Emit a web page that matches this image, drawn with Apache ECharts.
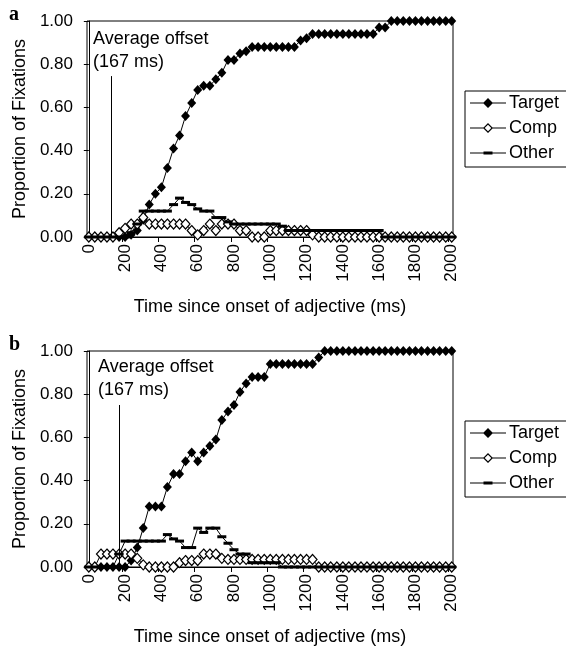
<!DOCTYPE html>
<html><head><meta charset="utf-8">
<script src="https://cdn.jsdelivr.net/npm/echarts@6/dist/echarts.min.js"></script>
<style>html,body{margin:0;padding:0;background:#fff}#c{width:566px;height:649px}</style>
</head><body><div id="c"></div>
<script>
// ---- data ----
const times = [0,33,67,100,133,167,200,233,267,300,333,367,400,433,467,500,533,567,600,633,667,700,733,767,800,833,867,900,933,967,1000,1033,1067,1100,1133,1167,1200,1233,1267,1300,1333,1367,1400,1433,1467,1500,1533,1567,1600,1633,1667,1700,1733,1767,1800,1833,1867,1900,1933,1967,2000];

const targetA = [0,0,0,0,0,0,0,0.01,0.03,0.08,0.15,0.20,0.23,0.32,0.41,0.47,0.56,0.62,0.68,0.70,0.70,0.73,0.76,0.82,0.82,0.85,0.86,0.88,0.88,0.88,0.88,0.88,0.88,0.88,0.88,0.91,0.92,0.94,0.94,0.94,0.94,0.94,0.94,0.94,0.94,0.94,0.94,0.94,0.97,0.97,1,1,1,1,1,1,1,1,1,1,1];
const compA = [0,0,0,0,0,0.02,0.04,0.06,0.06,0.09,0.06,0.06,0.06,0.06,0.06,0.06,0.06,0.03,0.01,0.03,0.06,0.03,0.06,0.06,0.06,0.03,0.03,0,0,0,0.03,0.03,0.03,0.03,0.03,0.03,0.03,0.01,0,0,0,0,0,0,0,0,0,0,0,0,0,0,0,0,0,0,0,0,0,0,0];
const otherA = [0,0,0,0,0,0,0,0.02,0.06,0.12,0.12,0.12,0.12,0.12,0.15,0.18,0.16,0.15,0.13,0.12,0.12,0.09,0.09,0.07,0.06,0.06,0.06,0.06,0.06,0.06,0.06,0.06,0.05,0.03,0.03,0.03,0.03,0.03,0.03,0.03,0.03,0.03,0.03,0.03,0.03,0.03,0.03,0.03,0.03,0,0,0,0,0,0,0,0,0,0,0,0];

const targetB = [0,0,0,0,0,0,0,0.03,0.09,0.18,0.28,0.28,0.28,0.37,0.43,0.43,0.49,0.53,0.49,0.53,0.56,0.59,0.68,0.72,0.75,0.81,0.85,0.88,0.88,0.88,0.94,0.94,0.94,0.94,0.94,0.94,0.94,0.94,0.97,1,1,1,1,1,1,1,1,1,1,1,1,1,1,1,1,1,1,1,1,1,1];
const compB = [0,0,0.06,0.06,0.06,0.06,0.06,0.06,0.04,0.01,0,0,0,0,0,0.02,0.03,0.03,0.03,0.06,0.06,0.06,0.04,0.035,0.035,0.035,0.035,0.035,0.035,0.035,0.035,0.035,0.035,0.035,0.035,0.035,0.035,0.035,0,0,0,0,0,0,0,0,0,0,0,0,0,0,0,0,0,0,0,0,0,0,0];
const otherB = [0,0,0,0,0,0.06,0.12,0.12,0.12,0.12,0.12,0.12,0.12,0.15,0.13,0.12,0.09,0.09,0.18,0.16,0.18,0.18,0.14,0.11,0.08,0.06,0.06,0.02,0.02,0.02,0.02,0.02,0,0,0,0,0,0,0,0,0,0,0,0,0,0,0,0,0,0,0,0,0,0,0,0,0,0,0,0,0];

const xLabelValues = [0,200,400,600,800,1000,1200,1400,1600,1800,2000];
const xTickValues = [183.3,383.3,583.3,783.3,983.3,1183.3,1383.3,1583.3,1783.3,1983.3];
const seriesNames = ['Target','Comp','Other'];
const offsetLineA = {time: 126, top: 0.745};
const offsetLineB = {time: 167, top: 0.75};
const panelLetters = ['a','b'];
const offsetText = 'Average offset\n(167 ms)';
const xTitle = 'Time since onset of adjective (ms)';
const yTitle = 'Proportion of Fixations';

// ---- chart ----
const FONT = '"Liberation Sans", Arial, sans-serif';
const pair = arr => times.map((t, i) => [t, arr[i]]);
const gridTops = [21, 351];
const chart = echarts.init(document.getElementById('c'), null, {renderer: 'canvas'});

function xAxisCfg(gi) {
  return {
    type: 'value', gridIndex: gi, min: -10, max: 2007,
    axisLine: {lineStyle: {color: '#000', width: 1}},
    axisTick: {show: true, inside: false, length: 5, customValues: xTickValues, lineStyle: {color: '#000'}},
    axisLabel: {customValues: xLabelValues, formatter: v => String(Math.round(v)), rotate: 90, margin: 7,
      fontSize: 17, color: '#000', fontFamily: FONT},
    splitLine: {show: false},
    name: xTitle, nameLocation: 'middle', nameGap: 61,
    nameTextStyle: {fontSize: 18, color: '#000', fontFamily: FONT}
  };
}
function yAxisCfg(gi) {
  return {
    type: 'value', gridIndex: gi, min: 0, max: 1, interval: 0.2,
    axisLine: {show: true, lineStyle: {color: '#000', width: 1}},
    axisTick: {show: true, inside: false, length: 5, lineStyle: {color: '#000'}},
    axisLabel: {formatter: v => v.toFixed(2), margin: 14, fontSize: 17, color: '#000', fontFamily: FONT},
    splitLine: {show: false},
    name: yTitle, nameLocation: 'middle', nameGap: 56,
    nameTextStyle: {fontSize: 18, color: '#000', fontFamily: FONT}
  };
}
function seriesFor(gi, tData, cData, oData, offset) {
  const base = {type: 'line', xAxisIndex: gi, yAxisIndex: gi, showAllSymbol: true, animation: false,
    silent: true, lineStyle: {color: '#000', width: 1}, emphasis: {disabled: true}};
  return [
    Object.assign({}, base, {name: seriesNames[0], data: pair(tData), symbol: 'diamond', symbolSize: [9, 10],
      itemStyle: {color: '#000'},
      markLine: {silent: true, symbol: 'none', animation: false, label: {show: false},
        lineStyle: {color: '#000', width: 1, type: 'solid'},
        data: [[{coord: [offset.time, offset.top]}, {coord: [offset.time, 0]}]]}}),
    Object.assign({}, base, {name: seriesNames[1], data: pair(cData), symbol: 'diamond', symbolSize: [9, 10],
      itemStyle: {color: '#fff', borderColor: '#000', borderWidth: 1.2}}),
    Object.assign({}, base, {name: seriesNames[2], data: pair(oData), symbol: 'rect', symbolSize: [9, 3],
      itemStyle: {color: '#000'}})
  ];
}
const pad = 'M0,0h0.01v0.01h-0.01z M35.99,11.99h0.01v0.01h-0.01z ';
const iconTarget = 'path://' + pad + 'M0,5.5h36v1h-36z M18,1L23,6L18,11L13,6Z';
const iconComp = 'path://' + pad + 'M0,5.5h13.5v1h-13.5z M22.5,5.5h13.5v1h-13.5z M18,1L23,6L18,11L13,6Z M18,2.7L14.7,6L18,9.3L21.3,6Z';
const iconOther = 'path://' + pad + 'M0,5.5h36v1h-36z M13.5,4.5h9v3h-9z';
function legendCfg(top) {
  return {
    orient: 'vertical', left: 465, top: top, selectedMode: false,
    borderColor: '#000', borderWidth: 1, borderRadius: 0, padding: [3, 12, 5, 5],
    itemGap: 7, itemWidth: 36, itemHeight: 12,
    itemStyle: {color: '#000', borderWidth: 0},
    textStyle: {fontSize: 18, color: '#000', fontFamily: FONT, padding: [0, 0, 0, -2]},
    data: [
      {name: seriesNames[0], icon: iconTarget, itemStyle: {color: '#000', borderWidth: 0}},
      {name: seriesNames[1], icon: iconComp, itemStyle: {color: '#000', borderWidth: 0}},
      {name: seriesNames[2], icon: iconOther, itemStyle: {color: '#000', borderWidth: 0}}
    ]
  };
}

const option = {
  backgroundColor: '#fff',
  animation: false,
  textStyle: {fontFamily: FONT},
  grid: gridTops.map(t => ({left: 87, width: 366, top: t, height: 216, show: true,
    borderColor: '#000', borderWidth: 1, backgroundColor: 'transparent'})),
  xAxis: [xAxisCfg(0), xAxisCfg(1)],
  yAxis: [yAxisCfg(0), yAxisCfg(1)],
  legend: [legendCfg(91), legendCfg(421)],
  series: [].concat(seriesFor(0, targetA, compA, otherA, offsetLineA),
                    seriesFor(1, targetB, compB, otherB, offsetLineB)),
  graphic: [
    {type: 'text', left: 9, top: 5, style: {text: panelLetters[0], font: 'bold 20px "Liberation Serif", serif', fill: '#000'}},
    {type: 'text', left: 9, top: 335, style: {text: panelLetters[1], font: 'bold 20px "Liberation Serif", serif', fill: '#000'}},
    {type: 'text', left: 93, top: 28, style: {text: offsetText, font: '18px "Liberation Sans", Arial, sans-serif', lineHeight: 23, fill: '#000'}},
    {type: 'text', left: 98, top: 356, style: {text: offsetText, font: '18px "Liberation Sans", Arial, sans-serif', lineHeight: 23, fill: '#000'}}
  ]
};
chart.setOption(option);
</script></body></html>
